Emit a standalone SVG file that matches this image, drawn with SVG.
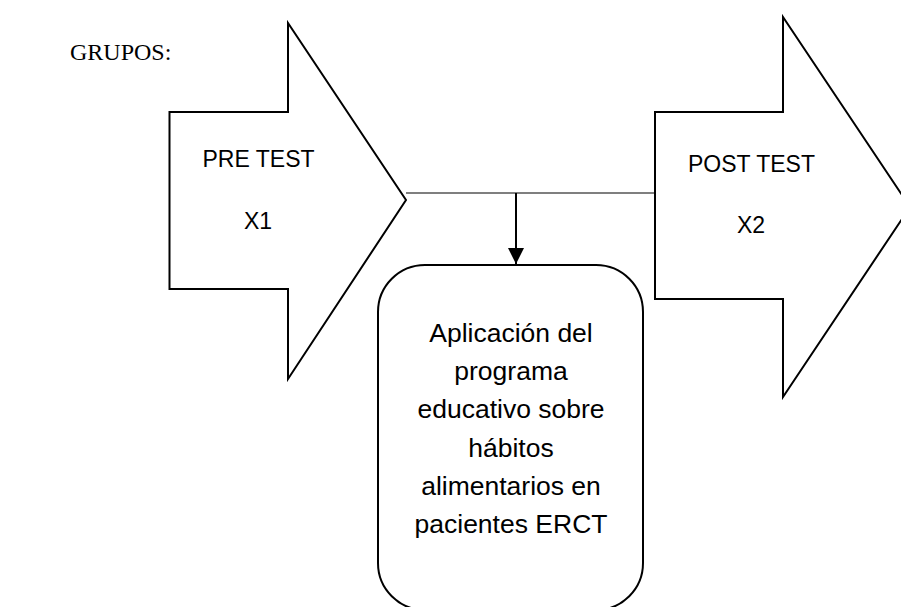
<svg xmlns="http://www.w3.org/2000/svg" width="901" height="607" viewBox="0 0 901 607">
<style>
.shape{fill:#fff;stroke:#000;stroke-width:2;stroke-linejoin:miter}
.lbl{font-family:"Liberation Sans",Arial,sans-serif;font-size:23px;fill:#000;text-anchor:middle}
.body{font-family:"Liberation Sans",Arial,sans-serif;font-size:26.5px;fill:#000;text-anchor:middle}
.title{font-family:"Liberation Serif","Times New Roman",serif;font-size:24px;fill:#000}
</style>
<defs>
<marker id="ah" markerWidth="8" markerHeight="8" refX="8" refY="4" orient="auto" markerUnits="strokeWidth">
<path d="M0,0 L8,4 L0,8 Z" fill="#000"/>
</marker>
</defs>
<rect width="901" height="607" fill="#fff"/>
<text class="title" x="70" y="60">GRUPOS:</text>
<g id="connectors">
<line x1="406" y1="193" x2="655" y2="193" stroke="#000" stroke-width="1.2"/>
<line x1="516" y1="193" x2="516" y2="264" stroke="#000" stroke-width="2" marker-end="url(#ah)"/>
</g>
<g id="pre-test">
<polygon class="shape" points="169.5,112 288,112 288,23 406,200 288,379 288,289 169.5,289"/>
<text class="lbl" x="258.5" y="167">PRE TEST</text>
<text class="lbl" x="258" y="229">X1</text>
</g>
<g id="post-test">
<polygon class="shape" points="655,112 783,112 783,17 910,207 783,397 783,299 655,299"/>
<text class="lbl" x="751.5" y="172">POST TEST</text>
<text class="lbl" x="751" y="233">X2</text>
</g>
<g id="programa">
<rect class="shape" x="378" y="265" width="265" height="345" rx="47" ry="47"/>
<text class="body" x="511" y="342">Aplicación del</text>
<text class="body" x="511" y="380">programa</text>
<text class="body" x="511" y="418">educativo sobre</text>
<text class="body" x="511" y="457">hábitos</text>
<text class="body" x="511" y="495">alimentarios en</text>
<text class="body" x="511" y="533">pacientes ERCT</text>
</g>
</svg>
